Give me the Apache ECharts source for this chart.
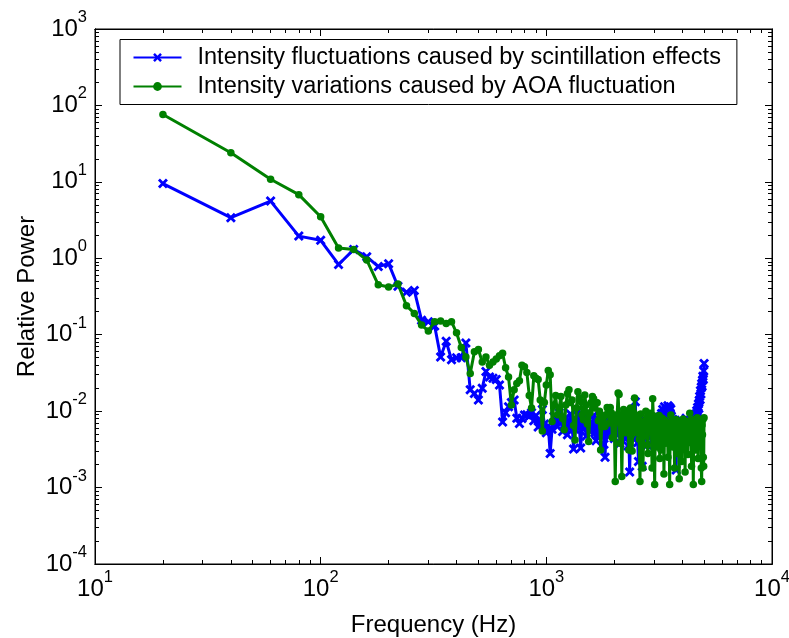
<!DOCTYPE html>
<html><head><meta charset="utf-8">
<script src="https://cdn.jsdelivr.net/npm/echarts@6/dist/echarts.min.js"></script>
<style>html,body{margin:0;padding:0;background:#fff}#c{width:789px;height:638px}</style>
</head><body><div id="c"></div>
<script>
const freqHz = [
20,40,60,80,100,120,140,160,180,200,
220,240,260,280,300,320,340,360,380,400,
420,440,460,480,500,520,540,560,580,600,
620,640,660,680,700,720,740,760,780,800,
820,840,860,880,900,920,940,960,980,1000,
1020,1040,1060,1080,1100,1120,1140,1160,1180,1200,
1220,1240,1260,1280,1300,1320,1340,1360,1380,1400,
1420,1440,1460,1480,1500,1520,1540,1560,1580,1600,
1620,1640,1660,1680,1700,1720,1740,1760,1780,1800,
1820,1840,1860,1880,1900,1920,1940,1960,1980,2000,
2020,2040,2060,2080,2100,2120,2140,2160,2180,2200,
2220,2240,2260,2280,2300,2320,2340,2360,2380,2400,
2420,2440,2460,2480,2500,2520,2540,2560,2580,2600,
2620,2640,2660,2680,2700,2720,2740,2760,2780,2800,
2820,2840,2860,2880,2900,2920,2940,2960,2980,3000,
3020,3040,3060,3080,3100,3120,3140,3160,3180,3200,
3220,3240,3260,3280,3300,3320,3340,3360,3380,3400,
3420,3440,3460,3480,3500,3520,3540,3560,3580,3600,
3620,3640,3660,3680,3700,3720,3740,3760,3780,3800,
3820,3840,3860,3880,3900,3920,3940,3960,3980,4000,
4020,4040,4060,4080,4100,4120,4140,4160,4180,4200,
4220,4240,4260,4280,4300,4320,4340,4360,4380,4400,
4420,4440,4460,4480,4500,4520,4540,4560,4580,4600,
4620,4640,4660,4680,4700,4720,4740,4760,4780,4800,
4820,4840,4860,4880,4900,4920,4940,4960,4980,5000];

const scintillation = [
9.5,3.4,5.6,1.95,1.72,0.83,1.3,1.05,0.78,0.85,
0.43,0.36,0.38,0.155,0.148,0.13,0.051,0.082,0.047,0.05,
0.05,0.078,0.019,0.017,0.014,0.02,0.033,0.028,0.027,0.026,
0.022,0.0072,0.0095,0.0114,0.013,0.014,0.0081,0.0069,0.008,0.0089,
0.009,0.0086,0.0095,0.0075,0.0088,0.0062,0.0071,0.0105,0.0068,0.0052,
0.0064,0.0028,0.0058,0.0085,0.0072,0.0063,0.0095,0.0078,0.0054,0.0066,
0.0082,0.0049,0.0061,0.0092,0.0071,0.0032,0.0058,0.0075,0.0104,0.0063,
0.0033,0.0069,0.0058,0.0081,0.0047,0.0062,0.0096,0.0055,0.0072,0.0064,
0.0088,0.0052,0.0041,0.0067,0.0078,0.0059,0.0048,0.0073,0.0065,0.0037,
0.0025,0.0058,0.0084,0.0061,0.0047,0.0069,0.0052,0.0077,0.0063,0.0044,
0.0071,0.0056,0.0049,0.0083,0.0062,0.0038,0.0067,0.0054,0.0072,0.0046,
0.0058,0.0079,0.0044,0.0061,0.0035,0.0052,0.0016,0.0048,0.0066,0.0057,
0.0074,0.0043,0.0062,0.0133,0.0051,0.0068,0.0039,0.0022,0.0055,0.0071,
0.0048,0.0063,0.0019,0.0057,0.0069,0.0044,0.0076,0.0053,0.0061,0.0036,
0.0058,0.0072,0.0047,0.0066,0.0083,0.0054,0.0041,0.0069,0.0058,0.0074,
0.0062,0.0045,0.0071,0.0056,0.0038,0.0067,0.0079,0.0052,0.0064,0.0085,
0.0072,0.0093,0.0081,0.0105,0.0088,0.0097,0.0114,0.0092,0.0101,0.0087,
0.0108,0.0095,0.0118,0.0089,0.0102,0.0112,0.0094,0.0106,0.0085,0.0071,
0.0063,0.0078,0.0052,0.0069,0.0044,0.0058,0.0066,0.0017,0.0049,0.0061,
0.0073,0.0055,0.0042,0.0068,0.0059,0.0047,0.0064,0.0076,0.0053,0.0038,
0.0061,0.0072,0.0049,0.0058,0.0067,0.0043,0.0055,0.0081,0.0062,0.0046,
0.0071,0.0056,0.0064,0.0039,0.0058,0.0075,0.0052,0.0067,0.0048,0.0062,
0.0055,0.0078,0.0061,0.0044,0.0069,0.0057,0.0073,0.0085,0.0064,0.0092,
0.0078,0.0101,0.0086,0.0112,0.0095,0.0124,0.0108,0.0138,0.0156,0.0142,
0.0185,0.0168,0.0205,0.0228,0.0212,0.0254,0.0286,0.0262,0.0335,0.042];

const aoaVariation = [
76,24,10.8,6.8,3.5,1.36,1.3,0.95,0.45,0.42,
0.46,0.24,0.19,0.134,0.112,0.148,0.151,0.14,0.148,0.106,
0.068,0.051,0.031,0.06,0.064,0.044,0.051,0.04,0.044,0.048,
0.053,0.057,0.037,0.028,0.012,0.019,0.023,0.025,0.04,0.038,
0.032,0.016,0.011,0.029,0.027,0.026,0.014,0.0055,0.013,0.022,
0.034,0.030,0.0073,0.012,0.016,0.009,0.011,0.0156,0.008,0.0057,
0.012,0.017,0.019,0.013,0.014,0.0065,0.0042,0.011,0.018,0.015,
0.0133,0.009,0.0077,0.0163,0.012,0.0068,0.004,0.0095,0.013,0.0156,
0.0145,0.011,0.013,0.0129,0.0075,0.01,0.0031,0.0063,0.0085,0.0063,
0.0063,0.009,0.0112,0.0105,0.007,0.0112,0.0095,0.0045,0.0082,0.0068,
0.0012,0.0075,0.009,0.0173,0.0165,0.0038,0.009,0.0014,0.006,0.0105,
0.008,0.0052,0.0085,0.0100,0.0065,0.0031,0.007,0.011,0.0048,0.0030,
0.0062,0.0095,0.0149,0.0071,0.0088,0.0052,0.0086,0.0068,0.0043,0.0012,
0.0092,0.0055,0.0066,0.0018,0.0047,0.0074,0.0059,0.0100,0.0081,0.0036,
0.0028,0.0062,0.0069,0.0094,0.0053,0.0076,0.0018,0.0145,0.0087,0.0045,
0.0011,0.0058,0.0079,0.0061,0.0034,0.0071,0.0052,0.0088,0.0024,0.0069,
0.0031,0.0064,0.0081,0.0043,0.0072,0.0015,0.0058,0.0076,0.0038,0.0066,
0.0049,0.0071,0.0025,0.0068,0.0053,0.0011,0.0062,0.0089,0.0045,0.0058,
0.0072,0.0034,0.0064,0.0051,0.0018,0.0069,0.0043,0.0078,0.0056,0.0028,
0.0061,0.0074,0.0039,0.0013,0.0058,0.0067,0.0046,0.0071,0.0022,0.0063,
0.0055,0.0079,0.0035,0.0062,0.0048,0.0016,0.0069,0.0053,0.0074,0.0041,
0.0065,0.0027,0.0058,0.0072,0.0039,0.0094,0.0061,0.0045,0.0068,0.0019,
0.0057,0.0073,0.0042,0.0011,0.0063,0.0078,0.0048,0.0066,0.0031,0.0059,
0.0071,0.0044,0.0082,0.0056,0.0024,0.0068,0.0075,0.0047,0.0062,0.0035,
0.0058,0.0072,0.0018,0.0012,0.0066,0.0049,0.0077,0.0025,0.0019,0.0082];

const seriesNames = ['Intensity fluctuations caused by scintillation effects', 'Intensity variations caused by AOA fluctuation'];
const xTickValues = [10, 100, 1000, 10000];
const yTickValues = [1e-4, 1e-3, 1e-2, 1e-1, 1, 10, 100, 1000];
const xAxisTitle = 'Frequency (Hz)';
const yAxisTitle = 'Relative Power';

const FONT = '"Liberation Sans", Arial, Helvetica, sans-serif';
function minorOf(decades) {
  const out = [];
  for (let i = 0; i < decades.length - 1; i++) {
    for (let m = 2; m <= 9; m++) out.push(+(decades[i] * m).toPrecision(6));
  }
  return out;
}
const xMinor = minorOf(xTickValues);
const yMinor = minorOf(yTickValues);

const rich = {
  b: {fontSize: 24, fontFamily: FONT, color: '#000', padding: [8, 0, 8, 0], verticalAlign: 'bottom'},
  s: {fontSize: 16.5, fontFamily: FONT, color: '#000', verticalAlign: 'top'}
};
const expFmt = v => '{b|10}{s|' + Math.round(Math.log10(v)) + '}';

function mkAxis(kind, pos, grid, ticks, len, opts) {
  const isX = kind === 'x';
  const ax = {
    type: 'log', logBase: 10, gridIndex: grid, position: pos,
    min: isX ? 10 : 1e-4, max: isX ? 10000 : 1000,
    axisLine: {show: true, onZero: false, lineStyle: {color: '#000', width: 1}},
    axisTick: {show: true, inside: true, length: len, customValues: ticks, lineStyle: {color: '#000', width: 1}},
    axisLabel: {show: false},
    splitLine: {show: false},
    minorTick: {show: false},
    axisPointer: {show: false},
    nameMoveOverlap: false
  };
  return Object.assign(ax, opts || {});
}

const X_SYMBOL = 'path://M0,2L2,0L5,3L8,0L10,2L7,5L10,8L8,10L5,7L2,10L0,8L3,5Z';

const chart = echarts.init(document.getElementById('c'));
chart.setOption({
  animation: false,
  backgroundColor: '#fff',
  textStyle: {fontFamily: FONT},
  grid: [
    {left: 95, right: 17, top: 29, bottom: 74, show: true, borderColor: '#000', borderWidth: 1, backgroundColor: '#fff', containLabel: false, outerBoundsMode: 'none'},
    {left: 95, right: 17, top: 29, bottom: 74, show: false, containLabel: false, outerBoundsMode: 'none'}
  ],
  xAxis: [
    mkAxis('x', 'bottom', 0, xTickValues, 7, {
      axisLabel: {show: true, customValues: xTickValues, formatter: expFmt, rich: rich, margin: 5},
      name: xAxisTitle, nameLocation: 'middle', nameGap: 49,
      nameTextStyle: {fontSize: 24, fontFamily: FONT, color: '#000'}
    }),
    mkAxis('x', 'top', 0, xTickValues, 7),
    mkAxis('x', 'bottom', 1, xMinor, 4),
    mkAxis('x', 'top', 1, xMinor, 4)
  ],
  yAxis: [
    mkAxis('y', 'left', 0, yTickValues, 7, {
      axisLabel: {show: true, customValues: yTickValues, formatter: expFmt, rich: rich, margin: 8},
      name: yAxisTitle, nameLocation: 'middle', nameGap: 56,
      nameTextStyle: {fontSize: 24, fontFamily: FONT, color: '#000'}
    }),
    mkAxis('y', 'right', 0, yTickValues, 7),
    mkAxis('y', 'left', 1, yMinor, 4),
    mkAxis('y', 'right', 1, yMinor, 4)
  ],
  legend: {
    orient: 'vertical', left: 120, top: 39.5,
    padding: [6, 16, 6, 12.5], itemGap: 5, itemWidth: 48, itemHeight: 11,
    borderColor: '#000', borderWidth: 1, backgroundColor: '#fff',
    selectedMode: false,
    textStyle: {fontSize: 23.5, fontFamily: FONT, color: '#000', lineHeight: 23, padding: [0, 0, 0, 11]},
    data: seriesNames
  },
  series: [
    {
      name: seriesNames[0], type: 'line', xAxisIndex: 0, yAxisIndex: 0,
      data: freqHz.map((f, i) => [f, scintillation[i]]),
      symbol: X_SYMBOL, symbolSize: 10, showAllSymbol: true,
      lineStyle: {color: '#0000ff', width: 3},
      itemStyle: {color: '#0000ff'},
      emphasis: {disabled: true}, z: 2
    },
    {
      name: seriesNames[1], type: 'line', xAxisIndex: 0, yAxisIndex: 0,
      data: freqHz.map((f, i) => [f, aoaVariation[i]]),
      symbol: 'circle', symbolSize: 7.5, showAllSymbol: true,
      lineStyle: {color: '#008000', width: 3},
      itemStyle: {color: '#008000'},
      emphasis: {disabled: true}, z: 3
    }
  ]
});
</script>
</body></html>
